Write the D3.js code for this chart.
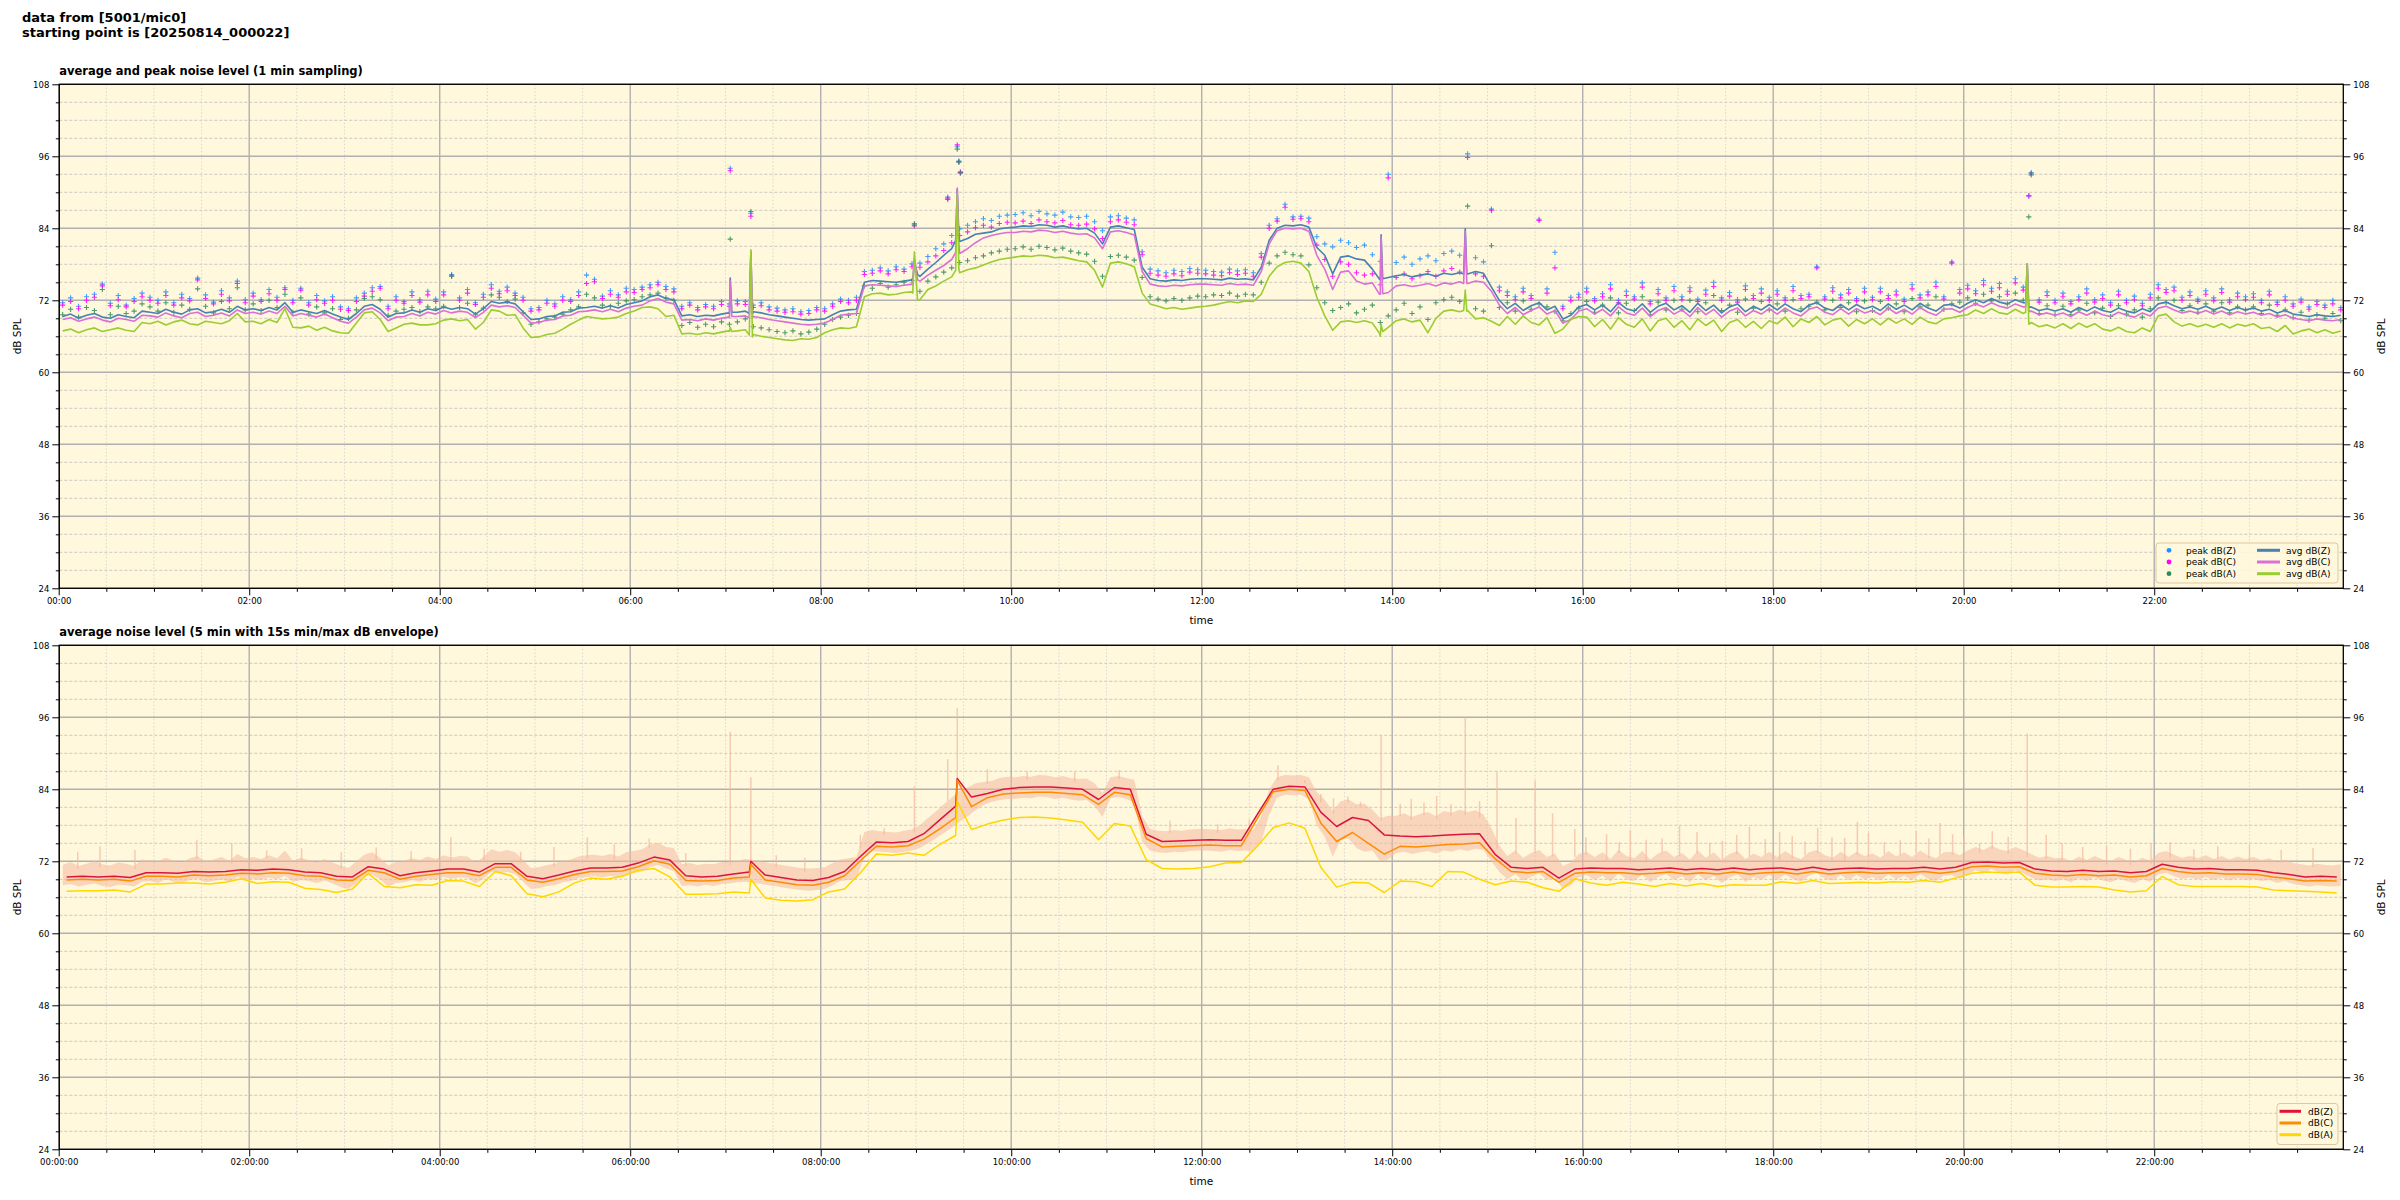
<!DOCTYPE html>
<html>
<head>
<meta charset="utf-8">
<script src="https://cdn.jsdelivr.net/npm/d3@7"></script>
<style>
  body { margin: 0; background: #fff; }
  text { font-family: "DejaVu Sans", sans-serif; }
</style>
</head>
<body>
<div id="chart"></div>
<script>
// top panel: 5 minute samples, one row per hour (00:00 .. 23:55)
const avgZ = [
  69.3,69.7,69.0,69.5,69.8,69.2,69.0,69.6,69.3,69.1,70.2,70.0,
  69.8,70.5,70.0,69.7,70.4,70.6,69.9,70.1,70.5,70.0,71.0,70.4,
  70.6,70.3,70.8,70.4,71.6,70.0,70.4,70.1,69.8,70.3,69.7,69.2,
  68.8,69.8,71.0,71.3,70.5,69.2,69.8,69.9,70.4,70.0,70.6,70.3,
  70.9,70.5,70.8,70.6,69.7,70.6,71.8,71.5,71.7,71.4,70.1,68.8,
  68.9,69.3,69.4,70.0,70.1,70.7,70.8,71.0,70.7,71.1,70.7,71.3,
  71.6,71.9,72.6,72.9,72.3,72.1,69.4,69.6,69.3,69.5,69.4,69.7,
  69.8,70.0,70.2,70.1,69.9,69.6,69.4,69.2,69.0,68.8,68.7,68.8,
  68.9,69.6,70.2,70.4,70.5,75.0,75.3,75.2,75.1,75.0,75.2,75.4,
  76.0,77.2,78.3,79.5,80.6,81.8,82.3,83.0,83.2,83.4,83.9,84.1,
  84.2,84.4,84.3,84.6,84.5,84.2,84.4,84.1,83.9,84.0,83.2,81.4,
  84.2,84.4,84.1,83.8,77.5,75.6,75.3,75.2,75.4,75.3,75.5,75.6,
  75.6,75.5,75.4,75.7,75.5,75.6,75.4,77.5,82.0,84.0,84.5,84.4,
  84.6,84.2,80.8,79.5,76.4,79.2,79.4,78.9,78.7,77.2,75.6,75.8,
  76.1,76.3,75.9,76.2,76.4,76.0,76.5,76.3,76.6,76.4,76.8,76.5,
  74.2,72.0,70.6,71.5,70.3,71.1,71.6,70.4,71.0,68.9,69.5,70.9,
  71.3,70.4,71.2,70.1,71.6,70.6,70.2,71.4,70.0,71.0,71.5,70.4,
  71.1,70.0,71.5,70.3,71.2,69.9,70.9,71.4,70.1,71.0,70.4,71.3,
  70.4,71.4,70.6,70.1,71.2,71.6,70.7,70.3,71.3,70.4,71.3,70.6,
  71.0,70.3,71.4,70.5,71.2,70.4,71.5,70.7,70.2,71.2,71.3,70.7,
  71.5,72.1,71.6,72.3,71.7,71.4,72.1,71.6,70.9,70.3,70.6,70.2,
  70.6,70.0,70.8,70.2,70.9,70.3,70.0,70.7,70.2,69.9,70.6,70.1,
  71.4,71.7,71.1,70.6,70.9,70.5,71.0,70.4,70.9,70.3,70.8,70.4,
  70.7,70.2,70.5,69.9,70.3,69.7,69.5,69.3,69.6,69.4,69.3,69.5
];
const avgC = [
  68.8,69.1,68.5,68.9,69.2,68.7,68.4,69.0,68.8,68.5,69.5,69.4,
  69.2,69.9,69.4,69.1,69.8,70.0,69.3,69.5,69.9,69.4,70.4,69.8,
  70.0,69.7,70.2,69.8,71.0,69.4,69.8,69.5,69.2,69.7,69.1,68.5,
  68.2,69.2,70.4,70.7,69.9,68.6,69.2,69.3,69.8,69.4,70.0,69.7,
  70.3,69.9,70.2,70.0,69.1,70.0,71.2,70.9,71.1,70.8,69.5,68.2,
  68.3,68.7,68.8,69.4,69.5,70.1,70.2,70.4,70.1,70.5,70.1,70.7,
  71.0,71.2,71.9,72.3,71.7,71.4,68.7,68.8,68.6,68.9,68.7,69.0,
  69.1,69.3,69.4,69.3,69.1,68.8,68.6,68.4,68.2,68.0,67.9,68.0,
  68.2,68.8,69.5,69.7,69.8,74.4,74.6,74.5,74.4,74.3,74.5,74.7,
  75.2,76.2,77.0,77.8,78.8,79.8,80.6,81.6,82.4,82.8,83.1,83.3,
  83.3,83.5,83.4,83.7,83.6,83.3,83.5,83.2,83.0,83.1,82.4,80.6,
  83.4,83.6,83.3,82.9,76.8,74.7,74.4,74.3,74.5,74.4,74.6,74.7,
  74.7,74.6,74.5,74.8,74.6,74.7,74.5,76.8,81.4,83.6,84.0,83.9,
  84.0,83.5,79.5,77.2,73.8,76.7,76.9,75.2,74.7,74.9,73.0,73.3,
  74.4,74.6,74.3,74.5,74.8,74.4,74.9,74.7,75.1,74.8,75.2,75.0,
  73.5,71.2,69.8,70.8,69.6,70.3,70.9,69.7,70.3,68.2,68.8,70.2,
  70.6,69.7,70.5,69.4,70.9,69.9,69.5,70.7,69.3,70.3,70.8,69.7,
  70.4,69.3,70.8,69.6,70.5,69.2,70.2,70.7,69.4,70.3,69.7,70.6,
  69.7,70.7,69.9,69.4,70.5,70.9,70.0,69.6,70.6,69.7,70.6,69.9,
  70.3,69.6,70.7,69.8,70.5,69.7,70.8,70.0,69.5,70.5,70.6,70.0,
  70.8,71.4,70.9,71.6,71.0,70.7,71.4,70.9,70.2,69.6,69.9,69.5,
  69.9,69.3,70.1,69.5,70.2,69.6,69.3,70.0,69.5,69.2,69.9,69.4,
  70.7,71.0,70.4,69.9,70.2,69.8,70.3,69.7,70.2,69.6,70.1,69.7,
  70.0,69.5,69.8,69.2,69.6,69.0,68.8,68.6,68.9,68.7,68.6,68.8
];
const avgA = [
  66.9,67.2,66.6,67.1,67.4,66.8,67.1,67.4,67.0,66.8,68.3,68.1,
  68.5,67.9,68.4,68.7,68.1,67.9,68.5,68.3,68.1,68.6,69.8,68.4,
  68.5,68.1,68.8,68.3,70.6,67.5,67.4,67.7,67.0,67.5,66.9,66.6,
  66.5,68.2,69.9,70.1,68.8,66.8,67.4,68.0,68.2,67.9,67.9,68.1,
  68.7,68.9,68.6,68.8,67.2,68.3,70.4,70.2,69.5,69.6,67.4,65.8,
  65.9,66.3,66.5,67.2,68.0,68.7,69.3,69.1,68.9,69.0,69.2,69.8,
  70.2,70.8,70.9,70.6,69.3,69.5,66.4,66.5,66.3,66.6,66.4,66.7,
  66.8,66.9,67.1,66.3,66.0,65.8,65.6,65.4,65.3,65.6,65.5,65.8,
  66.6,67.1,67.4,67.3,67.6,72.6,73.1,73.2,72.9,73.0,73.3,73.4,
  72.1,73.8,74.4,75.2,75.9,76.6,77.1,77.4,77.9,78.4,78.8,79.0,
  79.2,79.4,79.3,79.5,79.4,79.1,79.2,78.9,78.6,78.4,77.0,74.2,
  78.2,78.4,78.1,77.6,73.2,71.4,71.0,70.6,70.8,70.5,70.7,70.9,
  71.0,71.2,71.5,71.8,71.6,71.9,71.8,73.0,76.0,77.6,78.3,78.5,
  78.2,76.8,72.5,69.4,67.0,68.4,68.6,68.3,68.6,68.2,66.0,67.5,
  68.6,68.9,68.4,68.7,66.6,69.0,70.2,70.4,70.1,70.3,68.9,69.1,
  68.5,67.8,69.3,68.0,69.4,68.3,67.9,69.1,66.5,67.2,68.8,69.3,
  69.2,67.6,68.8,67.2,69.1,68.0,67.5,68.9,66.9,68.6,69.0,67.5,
  68.6,67.1,68.9,67.8,68.7,66.8,68.3,68.8,67.5,68.5,67.3,68.6,
  68.1,69.2,67.6,68.9,68.3,69.3,67.9,68.7,69.0,67.7,68.8,68.1,
  68.9,67.9,69.0,68.2,68.9,68.0,69.2,68.4,68.1,68.9,69.1,69.4,
  69.6,70.4,69.8,70.6,69.9,69.7,70.5,69.8,68.3,67.6,67.9,67.4,
  68.1,67.3,68.2,67.5,68.1,67.2,66.9,67.5,66.8,66.6,67.4,66.8,
  69.4,69.7,68.4,67.7,68.1,67.6,68.0,67.5,68.1,67.4,68.0,67.7,
  68.1,67.3,67.5,66.8,67.8,66.4,66.9,67.2,66.6,67.1,66.5,66.9
];
const peakZ = [
  71.6,72.4,71.0,72.6,73.0,74.7,71.5,72.8,71.2,72.3,73.2,72.5,
  72.0,73.4,71.6,73.0,72.3,75.7,72.9,71.7,73.6,72.4,75.2,72.1,
  73.2,72.1,73.8,72.5,74.1,72.0,74.0,71.6,72.8,71.9,72.6,70.9,
  70.6,72.4,73.2,74.1,74.3,71.0,72.6,71.8,73.4,72.1,73.5,72.2,
  73.4,76.3,72.4,73.8,71.6,73.0,74.6,73.5,74.2,73.2,72.5,70.6,
  70.8,72.0,71.4,72.6,72.1,73.4,76.2,75.5,72.7,73.6,72.9,74.0,
  73.8,74.2,74.6,75.0,74.3,73.9,71.0,71.6,70.8,71.3,71.0,71.8,
  71.4,71.9,71.8,71.2,71.6,70.9,70.7,70.4,70.6,70.1,70.3,70.8,
  70.6,71.4,72.2,72.0,72.5,76.8,77.0,77.4,76.9,77.6,77.2,78.1,
  78.2,79.3,80.6,81.4,82.8,83.9,84.5,85.1,85.6,85.3,86.0,86.2,
  86.3,86.6,86.1,86.8,86.4,86.2,86.7,85.9,85.8,86.0,85.1,83.6,
  85.9,86.1,85.7,85.4,80.1,77.2,76.9,76.6,77.0,76.8,77.3,77.1,
  77.0,76.8,76.7,77.2,76.9,77.1,76.6,79.8,84.5,85.6,88.0,85.9,
  86.0,85.7,82.6,81.4,80.9,82.0,81.6,80.8,81.2,79.6,78.5,93.0,
  78.3,79.2,78.0,78.9,79.4,78.6,79.8,80.2,79.5,96.4,79.1,78.4,
  87.2,74.2,73.4,72.6,74.0,72.8,85.5,73.9,80.0,71.0,72.5,73.0,
  74.0,72.3,73.1,74.6,72.0,73.5,72.6,74.9,71.8,73.8,72.4,74.3,
  72.6,74.1,72.2,73.7,75.0,72.4,73.3,72.1,74.4,72.8,73.9,72.5,
  73.6,72.4,74.3,72.8,73.0,77.6,72.6,74.1,72.9,73.8,72.3,74.0,
  72.5,74.0,72.8,73.5,72.2,74.6,72.9,73.4,75.0,72.6,78.4,73.8,
  74.5,73.6,75.3,74.0,74.8,73.5,75.6,74.2,93.3,72.1,73.4,72.0,
  73.2,71.8,72.6,73.9,72.1,72.9,71.6,73.5,72.0,72.7,71.5,73.0,
  74.6,73.8,74.2,72.5,73.4,72.2,73.6,72.4,73.9,72.1,73.2,72.6,
  73.1,72.0,73.5,71.7,72.6,71.4,72.2,70.9,71.8,71.2,72.0,70.8
];
const peakC = [
  71.2,71.8,70.6,72.0,72.5,74.4,71.1,72.1,70.9,71.8,72.6,72.0,
  71.5,72.8,71.2,72.4,71.9,75.4,72.3,71.4,73.0,71.9,74.8,71.6,
  72.7,71.8,73.1,72.0,73.8,71.6,73.7,71.2,72.1,71.5,72.0,70.5,
  70.3,71.8,72.7,73.5,74.0,70.6,72.0,71.5,72.8,71.7,72.9,71.8,
  72.9,76.1,72.0,73.2,71.3,72.5,74.0,73.1,73.6,72.8,72.0,70.2,
  70.4,71.5,71.0,72.0,71.8,72.8,74.8,75.1,72.3,73.0,72.5,73.4,
  73.3,73.8,74.1,74.6,73.8,73.4,70.6,71.2,70.4,70.9,70.6,71.3,
  71.0,71.4,71.3,70.8,71.1,70.4,70.2,70.0,70.1,69.7,69.8,70.4,
  70.2,71.0,71.8,71.6,72.0,76.3,76.5,76.9,76.4,77.1,76.8,77.6,
  77.5,78.4,79.4,80.3,81.6,82.8,83.4,84.1,84.5,84.2,84.8,85.0,
  84.9,85.2,84.8,85.4,85.1,84.9,85.3,84.6,84.5,84.7,83.9,82.3,
  85.1,85.4,85.0,84.6,79.6,76.5,76.2,76.0,76.4,76.1,76.7,76.5,
  76.4,76.2,76.1,76.6,76.3,76.5,76.0,79.2,84.0,85.2,87.5,85.5,
  85.6,85.1,81.2,78.8,76.0,78.4,78.0,76.6,76.2,76.4,74.6,92.4,
  75.8,76.4,75.6,76.1,76.8,76.0,76.9,77.3,76.7,95.8,76.4,76.0,
  87.0,73.6,72.8,72.1,73.4,72.3,85.3,73.2,77.4,70.6,71.9,72.5,
  73.4,71.9,72.6,73.9,71.6,72.8,72.2,74.2,71.4,73.1,72.0,73.6,
  72.1,73.5,71.8,73.0,74.3,72.0,72.7,71.7,73.8,72.3,73.2,72.0,
  73.0,72.0,73.6,72.3,72.6,77.4,72.2,73.5,72.4,73.2,71.9,73.4,
  72.1,73.4,72.3,72.9,71.8,73.9,72.4,72.9,74.3,72.2,78.2,73.2,
  73.9,73.1,74.6,73.5,74.1,73.0,74.9,73.7,93.1,71.7,72.8,71.6,
  72.6,71.4,72.1,73.2,71.7,72.3,71.2,72.9,71.6,72.1,71.1,72.4,
  74.0,73.3,73.6,72.0,72.8,71.8,73.0,71.9,73.3,71.7,72.6,72.1,
  72.5,71.6,72.9,71.3,72.0,71.0,71.7,70.5,71.3,70.8,71.4,70.4
];
const peakA = [
  69.6,70.5,69.2,70.8,70.3,73.8,69.6,71.0,69.8,70.2,71.4,70.9,
  70.2,71.6,70.0,71.2,70.5,73.9,71.0,69.9,71.8,70.6,74.1,70.4,
  71.4,70.3,72.0,70.8,73.0,70.0,72.4,69.7,70.9,69.9,70.6,68.8,
  69.0,70.4,72.3,72.6,72.1,69.5,70.2,70.5,70.8,70.1,70.9,70.6,
  71.0,76.0,70.8,71.5,69.6,70.7,72.9,72.5,71.8,72.2,69.9,68.0,
  68.4,68.9,69.2,69.7,70.4,70.9,73.0,72.4,71.2,71.0,71.5,71.9,
  72.1,72.6,72.9,73.2,72.4,72.0,67.8,68.3,67.5,68.0,67.6,68.4,
  68.0,68.4,68.9,67.6,67.4,67.1,66.8,66.6,66.9,66.4,66.7,67.2,
  68.0,68.8,69.2,69.5,69.8,74.4,74.0,74.8,74.2,74.6,75.0,75.3,
  73.5,75.2,75.9,76.7,77.4,78.3,78.6,79.1,79.4,79.9,80.2,80.5,
  80.6,80.9,80.5,81.0,80.8,80.4,80.7,80.2,79.9,79.7,78.5,76.0,
  79.3,79.5,79.2,78.7,75.8,72.6,72.2,71.9,72.3,72.0,72.4,72.7,
  72.6,72.9,72.8,73.2,72.7,73.0,72.9,75.0,78.2,79.4,80.0,79.6,
  79.4,77.9,74.1,71.6,70.3,70.8,71.4,69.9,70.5,71.2,68.3,69.4,
  70.4,71.5,69.8,70.9,68.8,71.6,72.1,72.5,71.8,87.7,70.6,70.2,
  81.1,70.8,71.6,70.2,71.9,70.5,71.4,70.9,70.1,68.6,69.8,70.7,
  71.8,70.0,71.2,72.4,69.9,71.5,70.3,72.6,69.6,71.7,70.4,72.0,
  70.5,72.0,70.1,71.6,72.8,70.3,71.2,70.0,72.2,70.7,71.8,70.4,
  71.4,70.2,72.1,70.6,71.0,71.7,70.4,72.0,70.8,71.6,70.1,71.9,
  70.3,71.8,70.7,71.4,70.1,72.3,70.9,71.2,72.6,70.5,71.4,71.7,
  72.4,71.5,73.0,71.9,72.6,71.4,73.2,72.0,92.9,69.8,71.1,69.6,
  71.0,69.6,70.4,71.5,69.9,70.7,69.3,71.1,69.7,70.4,69.2,70.6,
  72.4,71.6,72.0,70.3,71.1,70.0,71.4,70.2,71.6,69.9,70.9,70.4,
  70.9,69.8,71.2,69.5,70.4,69.1,70.0,68.7,69.6,69.0,69.8,68.6
];

// short single-minute events on the 1 min averages (minute of day)
const spikeT = [422, 423, 424, 435, 436, 437, 538, 539, 541, 565, 566, 567, 832, 833, 834, 885, 886, 887, 1239, 1240, 1241];
const spikeZ = [69.9, 75.7, 70.0, 69.8, 80.0, 69.7, 75.3, 78.5, 76.3, 82.0, 90.5, 83.0, 75.5, 82.9, 75.6, 76.4, 83.9, 76.4, 71.6, 78.1, 70.8];
const spikeC = [69.2, 75.2, 69.3, 69.1, 80.2, 69.0, 74.6, 79.0, 75.4, 80.0, 90.7, 81.5, 73.0, 82.5, 73.1, 74.8, 83.5, 74.8, 70.9, 78.0, 70.1];
const spikeA = [66.9, 67.5, 66.8, 66.2, 80.4, 65.9, 73.2, 80.1, 72.0, 77.0, 89.8, 77.3, 66.5, 68.0, 66.8, 70.3, 73.7, 70.2, 70.0, 78.1, 68.0];

// isolated high peak readings
const outT = [423, 436, 539, 560, 566, 567, 568, 1241];
const outZ = [94.0, 86.5, 84.8, 89.2, 97.6, 95.2, 93.4, 89.4];
const outC = [93.6, 86.0, 84.4, 89.0, 97.9, 95.1, 93.3, 89.4];
const outA = [82.2, 86.8, 84.6, 88.8, 97.2, 95.0, 93.2, 85.9];

// bottom panel: 5 min averages, read every 10 minutes, one row per hour
const botZ = [
  69.4,69.5,69.4,69.5,69.3,70.1, 70.1,70.0,70.3,70.2,70.3,70.6,
  70.5,70.7,70.6,70.2,70.1,69.5, 69.4,71.1,70.7,69.6,70.1,70.4,
  70.7,70.7,70.2,71.6,71.6,69.5, 69.1,69.7,70.4,70.9,70.9,71.0,
  71.7,72.7,72.2,69.6,69.4,69.5, 69.9,70.2,69.7,69.3,68.9,68.8,
  69.3,70.3,72.8,75.2,75.1,75.3, 76.6,78.9,81.2,82.7,83.3,84.0,
  84.3,84.4,84.4,84.2,84.0,82.3, 84.3,84.0,76.5,75.3,75.4,75.5,
  75.6,75.5,75.5,79.8,84.0,84.5, 84.4,80.2,77.8,79.3,78.8,76.4,
  76.2,76.1,76.2,76.4,76.5,76.6, 73.1,71.0,70.8,71.0,69.2,70.7,
  70.9,70.8,70.8,70.6,70.7,70.9, 70.6,70.8,70.6,70.9,70.6,70.8,
  70.9,70.6,71.0,70.6,70.8,70.9, 70.7,70.8,70.8,71.0,70.7,71.0,
  71.8,71.9,71.7,71.8,70.7,70.4, 70.3,70.5,70.3,70.4,70.1,70.3,
  71.5,71.0,70.7,70.8,70.6,70.6, 70.5,70.1,69.8,69.4,69.5,69.4
];
const botC = [
  68.9,69.0,68.9,69.0,68.7,69.5, 69.5,69.4,69.7,69.6,69.7,70.0,
  69.9,70.1,70.0,69.6,69.5,68.9, 68.8,70.5,70.1,69.0,69.5,69.8,
  70.1,70.1,69.6,71.0,71.0,68.9, 68.5,69.1,69.8,70.3,70.3,70.4,
  71.1,72.1,71.5,68.8,68.7,68.8, 69.2,69.4,68.9,68.5,68.1,68.0,
  68.5,69.6,72.1,74.5,74.4,74.6, 75.7,77.4,79.3,81.1,82.6,83.2,
  83.4,83.5,83.5,83.3,83.1,81.5, 83.5,83.1,75.8,74.4,74.5,74.6,
  74.7,74.6,74.6,79.1,83.6,84.0, 83.8,78.4,75.3,76.8,75.0,73.2,
  74.5,74.4,74.6,74.8,74.9,75.1, 72.4,70.3,70.1,70.3,68.5,70.0,
  70.2,70.1,70.1,69.9,70.0,70.2, 69.9,70.1,69.9,70.2,69.9,70.1,
  70.2,69.9,70.3,69.9,70.1,70.2, 70.0,70.1,70.1,70.3,70.0,70.3,
  71.1,71.2,71.0,71.1,70.0,69.7, 69.6,69.8,69.6,69.7,69.4,69.6,
  70.8,70.3,70.0,70.1,69.9,69.9, 69.8,69.4,69.1,68.7,68.8,68.7
];
const botA = [
  67.0,67.1,67.1,67.2,66.9,68.2, 68.2,68.4,68.4,68.2,68.5,69.1,
  68.3,68.6,68.5,67.5,67.3,66.8, 67.4,70.0,67.8,67.6,68.1,68.0,
  68.8,68.7,67.8,70.3,69.6,66.6, 66.1,66.9,68.4,69.2,69.0,69.5,
  70.5,70.8,69.4,66.5,66.5,66.6, 66.9,66.7,65.9,65.5,65.4,65.6,
  66.9,67.4,70.1,73.2,73.0,73.4, 73.0,74.8,76.3,77.3,78.2,78.9,
  79.3,79.4,79.2,78.9,78.5,75.6, 78.3,77.9,72.3,70.8,70.7,70.8,
  71.1,71.7,71.8,74.5,77.6,78.4, 77.5,71.0,67.7,68.5,68.4,66.8,
  68.7,68.6,67.8,70.3,70.2,69.0, 68.1,68.7,68.5,67.6,67.0,69.1,
  68.4,68.0,68.5,68.2,67.8,68.3, 67.9,68.3,67.8,68.1,68.0,68.0,
  68.6,68.3,68.8,68.3,68.4,68.5, 68.4,68.6,68.5,68.8,68.5,69.2,
  70.0,70.2,70.1,70.2,68.0,67.7, 67.7,67.8,67.7,67.2,66.9,67.1,
  69.5,68.1,67.8,67.8,67.8,67.8, 67.7,67.2,67.1,67.0,66.9,66.7
];
const botSpikeT = [436, 566];
const botSpikeZ = [72.0, 85.8];
const botSpikeC = [71.5, 85.5];
const botSpikeA = [69.0, 82.0];

// 15 s min/max envelope of dB(Z), 5 minute resolution
const envLo = [
  68.0,68.2,67.8,68.1,68.3,67.9,67.7,68.1,68.0,67.8,68.6,68.7,
  68.4,69.0,68.6,68.3,68.9,69.1,68.5,68.7,69.0,68.6,69.4,69.0,
  69.1,68.9,69.3,69.0,69.6,68.6,68.9,68.7,68.4,68.8,68.3,67.7,
  67.4,68.3,69.5,69.8,69.0,67.8,68.4,68.5,68.9,68.6,69.1,68.9,
  69.4,69.1,69.3,69.2,68.3,69.1,70.3,70.0,70.2,69.9,68.6,67.4,
  67.5,67.9,68.0,68.5,68.7,69.2,69.4,69.5,69.3,69.6,69.3,69.8,
  70.1,70.3,71.0,71.4,70.8,70.4,67.9,68.0,67.8,68.1,67.9,68.2,
  68.3,68.5,68.6,68.4,68.2,68.0,67.8,67.6,67.4,67.2,67.1,67.2,
  67.4,68.0,68.7,68.9,69.0,72.8,73.7,73.6,73.5,73.4,73.6,73.8,
  74.2,75.0,75.8,76.7,77.6,78.6,79.5,80.5,81.4,81.9,82.2,82.4,
  82.4,82.6,82.5,82.8,82.7,82.4,82.6,82.3,82.1,82.2,81.2,79.4,
  82.5,82.7,82.4,81.8,75.2,73.8,73.5,73.4,73.6,73.5,73.7,73.8,
  73.8,73.7,73.6,73.9,73.7,73.8,73.6,75.2,79.8,82.6,83.1,83.0,
  83.1,82.4,78.0,76.1,72.8,75.6,75.8,74.2,73.6,73.8,72.0,72.3,
  73.4,73.6,73.2,73.5,73.7,73.3,73.8,73.6,74.0,73.7,74.1,73.9,
  72.0,70.2,69.0,69.9,68.8,69.4,70.0,68.9,69.4,67.4,68.0,69.3,
  69.7,68.9,69.6,68.6,70.0,69.0,68.7,69.8,68.5,69.4,69.9,68.9,
  69.5,68.5,69.9,68.8,69.6,68.4,69.3,69.8,68.6,69.4,68.9,69.7,
  68.9,69.8,69.0,68.6,69.6,70.0,69.1,68.8,69.7,68.9,69.7,69.0,
  69.4,68.8,69.8,69.0,69.6,68.9,69.9,69.1,68.7,69.6,69.7,69.1,
  69.9,70.5,70.0,70.7,70.1,69.8,70.5,70.0,69.3,68.8,69.0,68.7,
  69.0,68.5,69.2,68.7,69.3,68.8,68.5,69.1,68.7,68.4,69.0,68.6,
  69.8,70.1,69.5,69.1,69.3,69.0,69.4,68.9,69.3,68.8,69.2,68.9,
  69.1,68.7,68.9,68.4,68.7,68.2,68.0,67.8,68.0,67.9,67.8,67.9
];
const envHi = [
  71.4,71.9,71.2,71.6,72.1,71.5,71.3,71.8,71.6,71.2,72.3,72.0,
  72.0,72.6,72.1,71.8,72.5,72.9,72.0,72.3,72.7,72.1,73.2,72.5,
  72.7,72.4,73.0,72.5,73.8,72.1,72.6,72.2,71.9,72.4,71.8,71.3,
  70.9,72.0,73.1,73.5,72.6,71.3,71.9,72.1,72.5,72.2,72.8,72.4,
  73.0,72.6,72.9,72.8,71.8,72.7,74.0,73.6,73.9,73.5,72.2,70.9,
  71.0,71.4,71.6,72.1,72.3,72.8,73.0,73.1,72.9,73.2,72.8,73.5,
  73.7,74.0,74.8,75.1,74.4,74.2,71.5,71.7,71.4,71.6,71.5,71.9,
  71.9,72.1,72.4,72.2,72.0,71.7,71.5,71.3,71.1,70.9,70.8,70.9,
  71.0,71.7,72.3,72.5,72.7,76.9,77.2,77.0,76.9,76.8,77.1,77.3,
  78.0,79.2,80.3,81.5,82.6,83.8,84.3,85.0,85.2,85.4,85.9,86.1,
  86.0,86.2,86.1,86.4,86.3,86.0,86.2,85.9,85.7,85.8,85.0,83.4,
  86.0,86.2,85.9,85.6,79.5,77.4,77.1,77.0,77.2,77.1,77.3,77.4,
  77.4,77.3,77.2,77.5,77.3,77.4,77.2,79.5,84.0,86.0,86.4,86.3,
  86.4,86.0,83.5,82.3,80.4,82.0,82.3,81.5,81.6,80.6,79.2,79.6,
  79.6,80.0,79.4,79.9,80.2,79.5,80.4,80.1,80.6,80.2,80.5,79.8,
  77.5,74.6,72.9,73.8,72.6,73.4,73.9,72.7,73.3,71.2,71.8,73.2,
  73.6,72.7,73.5,72.4,73.9,72.9,72.5,73.7,72.3,73.3,73.8,72.7,
  73.4,72.3,73.8,72.6,73.5,72.2,73.2,73.7,72.4,73.3,72.7,73.6,
  72.7,73.7,72.9,72.4,73.5,73.9,73.0,72.6,73.6,72.7,73.6,72.9,
  73.3,72.6,73.7,72.8,73.5,72.7,73.8,73.0,72.5,73.5,73.6,73.0,
  73.8,74.4,73.9,74.6,74.0,73.7,74.4,73.9,73.2,72.6,72.9,72.5,
  72.6,72.0,72.8,72.2,72.9,72.3,72.0,72.7,72.2,71.9,72.6,72.1,
  73.4,73.7,73.1,72.6,72.9,72.5,73.0,72.4,72.9,72.3,72.8,72.4,
  72.7,72.2,72.5,71.9,72.3,71.7,71.5,71.3,71.6,71.4,71.3,71.5
];
// single 15 s maxima standing out of the envelope (minute of day, dB)
const envSpikeT = [
  12, 26, 48, 87, 109, 131, 153, 178, 200, 222, 247, 268, 291, 312, 333, 350,
  372, 395, 423, 436, 452, 470, 505, 520, 539,
  560, 566, 585, 610, 640, 668, 700, 730, 750,
  768, 785, 795, 803, 812, 820, 833, 845, 852, 860, 868, 877, 886, 895,
  906, 918, 930, 941, 955, 962, 975, 983, 990, 1000, 1010, 1021, 1032, 1040, 1048, 1057,
  1065, 1075, 1084, 1092, 1100, 1108, 1117, 1125, 1133, 1140, 1150, 1160, 1170, 1178,
  1185, 1193, 1200, 1210, 1218, 1228, 1240, 1252, 1262, 1275, 1290, 1305, 1318, 1330,
  1345, 1360, 1380, 1400, 1420
];
const envSpikeV = [
  73.6, 74.5, 73.9, 75.5, 75.0, 73.8, 74.2, 73.5, 74.3, 73.7, 76.0, 74.1, 73.6, 74.4, 76.0, 74.8,
  75.8, 73.4, 93.6, 86.0, 73.0, 72.6, 74.2, 77.5, 84.5,
  89.0, 97.5, 87.4, 87.0, 86.9, 87.2, 78.8, 78.2, 79.0,
  88.0, 85.0, 83.2, 82.5, 82.8, 81.9, 93.0, 81.6, 82.4, 81.8, 82.9, 81.5, 96.0, 82.0,
  87.0, 79.2, 85.5, 80.0, 77.4, 76.0, 76.5, 75.2, 77.2, 75.6, 75.8, 77.9, 76.9, 75.1, 75.4, 76.4,
  77.8, 75.7, 76.9, 76.2, 75.3, 77.6, 76.0, 75.9, 78.6, 76.8, 75.2, 75.5, 77.1, 75.8,
  78.4, 76.5, 76.3, 75.0, 77.0, 76.1, 93.3, 76.4, 75.0, 74.4, 74.6, 74.1, 75.0, 75.2,
  74.0, 74.5, 74.8, 73.9, 74.2
];

const yTicks = [24, 36, 48, 60, 72, 84, 96, 108];
const xTickMin = [0, 120, 240, 360, 480, 600, 720, 840, 960, 1080, 1200, 1320];

const STEP = 5, BOT_STEP = 10;
const tAt = i => i * STEP + STEP / 2;
const tBot = i => i * BOT_STEP + BOT_STEP / 2;

const W = 2400, H = 1200;
const X0 = 59.3, X1 = 2343.3, PH = 504;

const svg = d3.select("#chart").append("svg")
  .attr("width", W).attr("height", H);
svg.append("rect").attr("width", W).attr("height", H).attr("fill", "#fff");

const x = d3.scaleLinear().domain([0.37, 1439.1]).range([X0, X1]);

function buildSeries(vals, tf, extraT, extraV) {
  const pts = vals.map((v, i) => ({t: tf(i), v: v}));
  extraT.forEach((t, k) => pts.push({t: t, v: extraV[k]}));
  return pts.sort((a, b) => a.t - b.t);
}

function pad2(n) { return (n < 10 ? "0" : "") + n; }

function drawFrame(top, title, withSeconds, clipId) {
  const y = d3.scaleLinear().domain([24, 108]).range([top + PH, top]);
  const g = svg.append("g");

  g.append("rect")
    .attr("x", X0).attr("y", top).attr("width", X1 - X0).attr("height", PH)
    .attr("fill", "#fff8dc");

  // minor grid
  const minorY = d3.range(27, 108, 3).filter(d => d % 12 !== 0);
  g.selectAll(".minor-h").data(minorY).enter().append("line")
    .attr("x1", X0).attr("x2", X1)
    .attr("y1", d => y(d)).attr("y2", d => y(d))
    .attr("stroke", "#bdbdbd").attr("stroke-width", 0.8)
    .attr("stroke-dasharray", "3,2");
  const minorX = d3.range(30, 1440, 30).filter(d => d % 120 !== 0);
  g.selectAll(".minor-v").data(minorX).enter().append("line")
    .attr("x1", d => x(d)).attr("x2", d => x(d))
    .attr("y1", top).attr("y2", top + PH)
    .attr("stroke", "#cfcfcf").attr("stroke-width", 0.8)
    .attr("stroke-dasharray", "1.5,2");

  // major grid
  g.selectAll(".major-h").data(yTicks).enter().append("line")
    .attr("x1", X0).attr("x2", X1)
    .attr("y1", d => y(d)).attr("y2", d => y(d))
    .attr("stroke", "#b0b0b0").attr("stroke-width", 1.4);
  g.selectAll(".major-v").data(xTickMin).enter().append("line")
    .attr("x1", d => x(d)).attr("x2", d => x(d))
    .attr("y1", top).attr("y2", top + PH)
    .attr("stroke", "#b0b0b0").attr("stroke-width", 1.4);

  svg.append("clipPath").attr("id", clipId)
    .append("rect").attr("x", X0).attr("y", top).attr("width", X1 - X0).attr("height", PH);

  const data = svg.append("g").attr("clip-path", "url(#" + clipId + ")");

  const fmt = m => pad2(Math.floor(m / 60)) + ":" + pad2(m % 60) + (withSeconds ? ":00" : "");
  // axes, frame and labels go on top of the data
  const axes = () => {
    const a = svg.append("g");
    a.append("rect")
      .attr("x", X0).attr("y", top).attr("width", X1 - X0).attr("height", PH)
      .attr("fill", "none").attr("stroke", "#000").attr("stroke-width", 1.3);

    const minorYT = d3.range(24, 109, 3).filter(d => d % 12 !== 0);
    const left = a.append("g").attr("transform", `translate(${X0},0)`)
      .call(d3.axisLeft(y).tickValues(yTicks).tickSize(7).tickPadding(3));
    const right = a.append("g").attr("transform", `translate(${X1},0)`)
      .call(d3.axisRight(y).tickValues(yTicks).tickSize(7).tickPadding(3));
    const bottom = a.append("g").attr("transform", `translate(0,${top + PH})`)
      .call(d3.axisBottom(x).tickValues(xTickMin).tickFormat(fmt).tickSize(7).tickPadding(3));
    [left, right, bottom].forEach(s => {
      s.select(".domain").remove();
      s.selectAll("text").style("font-size", "8.5px").attr("fill", "#000");
    });
    a.append("g").attr("transform", `translate(${X0},0)`)
      .call(d3.axisLeft(y).tickValues(minorYT).tickSize(3.5).tickFormat(""))
      .select(".domain").remove();
    a.append("g").attr("transform", `translate(${X1},0)`)
      .call(d3.axisRight(y).tickValues(minorYT).tickSize(3.5).tickFormat(""))
      .select(".domain").remove();
    a.append("g").attr("transform", `translate(0,${top + PH})`)
      .call(d3.axisBottom(x).tickValues(minorX).tickSize(3.5).tickFormat(""))
      .select(".domain").remove();

    a.append("text").attr("x", X0).attr("y", top - 9)
      .style("font-size", "11.5px").style("font-weight", "bold").text(title);
    a.append("text").attr("x", (X0 + X1) / 2).attr("y", top + PH + 36)
      .attr("text-anchor", "middle").style("font-size", "10.5px").text("time");
    a.append("text").attr("transform", `translate(21,${top + PH / 2}) rotate(-90)`)
      .attr("text-anchor", "middle").style("font-size", "10.5px").text("dB SPL");
    a.append("text").attr("transform", `translate(2385,${top + PH / 2}) rotate(-90)`)
      .attr("text-anchor", "middle").style("font-size", "10.5px").text("dB SPL");
    return a;
  };
  return {y, data, axes};
}

// figure title
svg.append("text").attr("x", 22).attr("y", 22)
  .style("font-size", "13px").style("font-weight", "bold").text("data from [5001/mic0]");
svg.append("text").attr("x", 22).attr("y", 37)
  .style("font-size", "13px").style("font-weight", "bold").text("starting point is [20250814_000022]");

// ---------- top panel ----------
const p1 = drawFrame(84.3, "average and peak noise level (1 min sampling)", false, "clip1");
const line1 = d3.line().x(d => x(d.t)).y(d => p1.y(d.v));

const peakSets = [
  {vals: peakZ, out: outZ, color: "#1e90ff"},
  {vals: peakC, out: outC, color: "#ff00ff"},
  {vals: peakA, out: outA, color: "#2e8b57"}
];
const plus = "M-2.6,0H2.6M0,-2.6V2.6";
peakSets.forEach(s => {
  const pts = buildSeries(s.vals, tAt, outT, s.out);
  p1.data.append("g").selectAll("path").data(pts).enter().append("path")
    .attr("d", plus)
    .attr("transform", d => `translate(${x(d.t)},${p1.y(d.v)})`)
    .attr("stroke", s.color).attr("stroke-width", 1.1).attr("fill", "none")
    .attr("opacity", 0.85);
});

const avgSets = [
  {vals: avgZ, sp: spikeZ, color: "#4682b4"},
  {vals: avgC, sp: spikeC, color: "#da70d6"},
  {vals: avgA, sp: spikeA, color: "#9acd32"}
];
avgSets.forEach(s => {
  p1.data.append("path").datum(buildSeries(s.vals, tAt, spikeT, s.sp))
    .attr("d", line1).attr("fill", "none")
    .attr("stroke", s.color).attr("stroke-width", 1.6).attr("stroke-linejoin", "round");
});
p1.axes();

// top legend
const lg1 = svg.append("g").attr("transform", "translate(2156,543)");
lg1.append("rect").attr("width", 182).attr("height", 40).attr("rx", 3)
  .attr("fill", "#fff8dc").attr("fill-opacity", 0.85).attr("stroke", "#dcc9a3");
const peakNames = ["peak dB(Z)", "peak dB(C)", "peak dB(A)"];
const avgNames = ["avg dB(Z)", "avg dB(C)", "avg dB(A)"];
peakNames.forEach((n, i) => {
  const yy = 7.3 + i * 11.7;
  lg1.append("circle").attr("cx", 13).attr("cy", yy).attr("r", 2.4).attr("fill", peakSets[i].color);
  lg1.append("text").attr("x", 30).attr("y", yy + 3.3).style("font-size", "9px").text(n);
  lg1.append("line").attr("x1", 101).attr("x2", 124).attr("y1", yy).attr("y2", yy)
    .attr("stroke", avgSets[i].color).attr("stroke-width", 3);
  lg1.append("text").attr("x", 130).attr("y", yy + 3.3).style("font-size", "9px").text(avgNames[i]);
});

// ---------- bottom panel ----------
const p2 = drawFrame(645.3, "average noise level (5 min with 15s min/max dB envelope)", true, "clip2");
const line2 = d3.line().x(d => x(d.t)).y(d => p2.y(d.v));
const envFill = "#f4b8a0";
const env = envLo.map((v, i) => ({t: tAt(i), lo: v, hi: envHi[i]}));
p2.data.append("path").datum(env)
  .attr("d", d3.area().x(d => x(d.t)).y0(d => p2.y(d.lo)).y1(d => p2.y(d.hi)))
  .attr("fill", envFill).attr("fill-opacity", 0.55);
p2.data.append("g").selectAll("line").data(envSpikeT).enter().append("line")
  .attr("x1", d => x(d)).attr("x2", d => x(d))
  .attr("y1", d => p2.y(envHi[Math.min(287, Math.floor(d / STEP))] - 0.5))
  .attr("y2", (d, k) => p2.y(envSpikeV[k]))
  .attr("stroke", envFill).attr("stroke-opacity", 0.7).attr("stroke-width", 1.5);

const botSets = [
  {vals: botZ, sp: botSpikeZ, color: "#dc143c", name: "dB(Z)"},
  {vals: botC, sp: botSpikeC, color: "#ff8c00", name: "dB(C)"},
  {vals: botA, sp: botSpikeA, color: "#ffd700", name: "dB(A)"}
];
botSets.forEach(s => {
  p2.data.append("path").datum(buildSeries(s.vals, tBot, botSpikeT, s.sp))
    .attr("d", line2).attr("fill", "none")
    .attr("stroke", s.color).attr("stroke-width", 1.5).attr("stroke-linejoin", "round");
});
p2.axes();

const lg2 = svg.append("g").attr("transform", "translate(2277,1103.5)");
lg2.append("rect").attr("width", 61).attr("height", 41).attr("rx", 3)
  .attr("fill", "#fff8dc").attr("fill-opacity", 0.85).attr("stroke", "#dcc9a3");
botSets.forEach((s, i) => {
  const yy = 7.8 + i * 11.7;
  lg2.append("line").attr("x1", 2.5).attr("x2", 24).attr("y1", yy).attr("y2", yy)
    .attr("stroke", s.color).attr("stroke-width", 3);
  lg2.append("text").attr("x", 31).attr("y", yy + 3.3).style("font-size", "9px").text(s.name);
});
</script>
</body>
</html>
